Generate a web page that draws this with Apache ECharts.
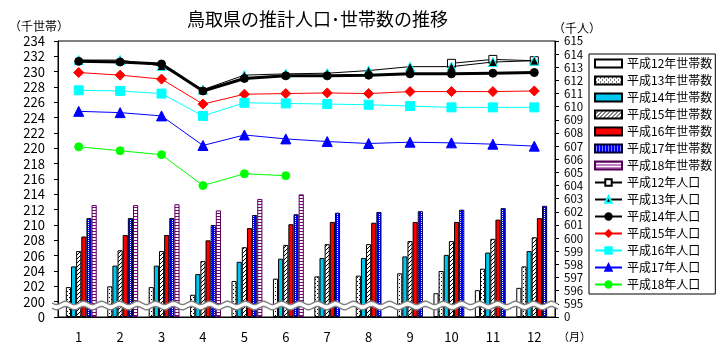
<!DOCTYPE html>
<html>
<head>
<meta charset="utf-8">
<script src="https://cdn.jsdelivr.net/npm/echarts@6/dist/echarts.min.js"></script>
<style>
html,body{margin:0;padding:0;background:#fff;}
#chart{width:720px;height:350px;}
</style>
</head>
<body>
<div id="chart"></div>
<script>
// 月
var months = ['1', '2', '3', '4', '5', '6', '7', '8', '9', '10', '11', '12'];

var barNames = ['平成12年世帯数', '平成13年世帯数', '平成14年世帯数', '平成15年世帯数',
    '平成16年世帯数', '平成17年世帯数', '平成18年世帯数'];
var lineNames = ['平成12年人口', '平成13年人口', '平成14年人口', '平成15年人口',
    '平成16年人口', '平成17年人口', '平成18年人口'];

// 世帯数（千世帯）
var hh12 = [null, null, null, null, null, null, null, null, null, 201.1, 201.5, 201.8];
var hh13 = [201.9, 202.0, 201.9, 200.9, 202.7, 203.0, 203.3, 203.4, 203.7, 204.0, 204.3, 204.6];
var hh14 = [204.6, 204.7, 204.7, 203.6, 205.2, 205.6, 205.7, 205.7, 205.9, 206.1, 206.4, 206.6];
var hh15 = [206.6, 206.7, 206.6, 205.3, 207.1, 207.4, 207.5, 207.5, 207.9, 207.9, 208.2, 208.4];
var hh16 = [208.5, 208.7, 208.7, 208.0, 209.6, 210.1, 210.4, 210.3, 210.4, 210.4, 210.7, 210.9];
var hh17 = [210.9, 210.9, 210.9, 210.0, 211.3, 211.4, 211.6, 211.7, 211.8, 212.0, 212.2, 212.5];
var hh18 = [212.6, 212.6, 212.7, 211.9, 213.4, 214.0, null, null, null, null, null, null];

// 人口（千人）
var pop12 = [null, null, null, null, null, null, null, null, null, 613.3, 613.6, 613.5];
var pop13 = [613.55, 613.55, 613.1, 611.3, 612.4, 612.5, 612.55, 612.75, 613.05, 613.05, 613.4, 613.5];
var pop14 = [613.45, 613.4, 613.25, 611.2, 612.15, 612.35, 612.35, 612.4, 612.5, 612.5, 612.55, 612.6];
var pop15 = [612.6, 612.4, 612.1, 610.2, 610.95, 611.0, 611.05, 611.0, 611.15, 611.15, 611.15, 611.2];
var pop16 = [611.25, 611.2, 611.0, 609.3, 610.3, 610.25, 610.2, 610.15, 610.05, 609.95, 609.95, 609.95];
var pop17 = [609.65, 609.55, 609.3, 607.05, 607.85, 607.55, 607.35, 607.2, 607.3, 607.25, 607.15, 607.0];
var pop18 = [606.95, 606.65, 606.35, 604.0, 604.9, 604.75, null, null, null, null, null, null];

var FONT = '"Noto Sans CJK JP", sans-serif';

function pattern(w, h, bg, fg, dots) {
    var c = document.createElement('canvas');
    c.width = w;
    c.height = h;
    var g = c.getContext('2d');
    g.fillStyle = bg;
    g.fillRect(0, 0, w, h);
    g.fillStyle = fg;
    dots.forEach(function (d) { g.fillRect(d[0], d[1], 1, 1); });
    return { image: c, repeat: 'repeat' };
}

var barFills = [
    '#ffffff',
    pattern(4, 4, '#ffffff', '#000000', [[1, 1], [3, 3]]),
    '#00c8f0',
    pattern(4, 4, '#ffffff', '#000000', [[3, 0], [2, 1], [1, 2], [0, 3]]),
    '#ff0000',
    pattern(3, 2, '#0000ff', '#ffffff', [[1, 0]]),
    pattern(1, 3, '#ffffff', '#800080', [[0, 0]])
];
var barBorders = ['#000', '#000', '#000', '#000', '#000', '#000033', '#550055'];
var barData = [hh12, hh13, hh14, hh15, hh16, hh17, hh18];

var lineData = [pop12, pop13, pop14, pop15, pop16, pop17, pop18];
var lineColors = ['#000000', '#000000', '#000000', '#ff0000', '#00ffff', '#0000ff', '#00ff00'];
var lineWidths = [1, 1, 3, 1, 1, 1, 1];
var symbols = ['rect', 'triangle', 'circle', 'diamond', 'rect', 'triangle', 'circle'];
var symbolSizes = [8, 9, 8, 10, 9, 10, 8];
var symbolFills = ['#ffffff', '#000000', '#000000', '#ff0000', '#00ffff', '#0000ff', '#00ff00'];
var symbolBorders = ['#000000', '#00ffff', '#000000', '#ff0000', '#00ffff', '#0000ff', '#00ff00'];

var series = [];
barNames.forEach(function (n, i) {
    series.push({
        name: n,
        type: 'bar',
        yAxisIndex: 0,
        data: barData[i],
        barGap: '0%',
        barCategoryGap: '13%',
        itemStyle: { color: barFills[i], borderColor: barBorders[i], borderWidth: 1 },
        z: 2
    });
});
lineNames.forEach(function (n, i) {
    series.push({
        name: n,
        type: 'line',
        yAxisIndex: 1,
        data: lineData[i],
        symbol: symbols[i],
        symbolSize: symbolSizes[i],
        showAllSymbol: true,
        lineStyle: { color: lineColors[i], width: lineWidths[i] },
        itemStyle: { color: symbolFills[i], borderColor: symbolBorders[i], borderWidth: 1 },
        z: 5 + i
    });
});

var chart = echarts.init(document.getElementById('chart'));
chart.setOption({
    animation: false,
    backgroundColor: '#ffffff',
    textStyle: { fontFamily: FONT },
    title: [
        { text: '鳥取県の推計人口･世帯数の推移', left: 182, top: 5,
          textStyle: { fontSize: 18, fontWeight: 'normal', color: '#000', fontFamily: FONT } },
        { text: '（千世帯）', left: 4, top: 15,
          textStyle: { fontSize: 12, fontWeight: 'normal', color: '#000', fontFamily: FONT } },
        { text: '（千人）', left: 548, top: 17,
          textStyle: { fontSize: 12, fontWeight: 'normal', color: '#000', fontFamily: FONT } },
        { text: '（月）', left: 553, top: 326,
          textStyle: { fontSize: 11, fontWeight: 'normal', color: '#000', fontFamily: FONT } }
    ],
    legend: {
        orient: 'vertical',
        left: 589,
        top: 54,
        padding: [1, 3, 1, 5],
        itemGap: 0,
        itemWidth: 27,
        itemHeight: 8,
        borderColor: '#000',
        borderWidth: 1,
        selectedMode: false,
        textStyle: { fontSize: 12, lineHeight: 17, color: '#000', fontFamily: FONT },
        data: barNames.map(function (n) { return { name: n, icon: 'rect' }; }).concat(lineNames)
    },
    grid: {
        left: 58, right: 165, top: 41, bottom: 33,
        show: true, borderColor: '#000', borderWidth: 1, backgroundColor: 'transparent'
    },
    xAxis: {
        type: 'category',
        data: months,
        axisLine: { lineStyle: { color: '#000', width: 1 } },
        axisTick: { show: false },
        axisLabel: { color: '#000', fontSize: 13, margin: 14, fontFamily: FONT }
    },
    yAxis: [
        {
            type: 'value',
            min: 198, max: 234, interval: 2,
            startValue: 198,
            splitLine: { show: false },
            axisLine: { show: true, lineStyle: { color: '#000' } },
            axisTick: { show: true, length: 4, lineStyle: { color: '#000' } },
            axisLabel: {
                color: '#000', fontSize: 13, margin: 13, fontFamily: FONT,
                formatter: function (v) { return v === 198 ? '0' : String(v); }
            }
        },
        {
            type: 'value',
            min: 594, max: 615, interval: 1,
            splitLine: { show: false },
            axisLine: { show: true, lineStyle: { color: '#000' } },
            axisTick: { show: true, length: 4, lineStyle: { color: '#000' } },
            axisLabel: {
                color: '#000', fontSize: 11.5, margin: 9, fontFamily: FONT,
                formatter: function (v) { return v === 594 ? '0' : String(v); }
            }
        }
    ],
    series: series
});

// 軸の省略（波線）
(function () {
    var yc = chart.convertToPixel({ yAxisIndex: 0 }, 199.5);
    var top = [], bot = [];
    for (var x = 52; x <= 558; x += 1) {
        var s = 1.6 * Math.sin(2 * Math.PI * (x - 52) / 18);
        top.push([x, yc - 2.6 + s]);
        bot.push([x, yc + 2.6 + s]);
    }
    chart.setOption({
        graphic: [
            { type: 'polygon', z: 100, silent: true,
              shape: { points: top.concat(bot.slice().reverse()) },
              style: { fill: '#ffffff' } },
            { type: 'polyline', z: 101, silent: true, shape: { points: top },
              style: { stroke: '#808080', lineWidth: 1.5, fill: null } },
            { type: 'polyline', z: 101, silent: true, shape: { points: bot },
              style: { stroke: '#808080', lineWidth: 1.5, fill: null } }
        ]
    });
})();
</script>
</body>
</html>
